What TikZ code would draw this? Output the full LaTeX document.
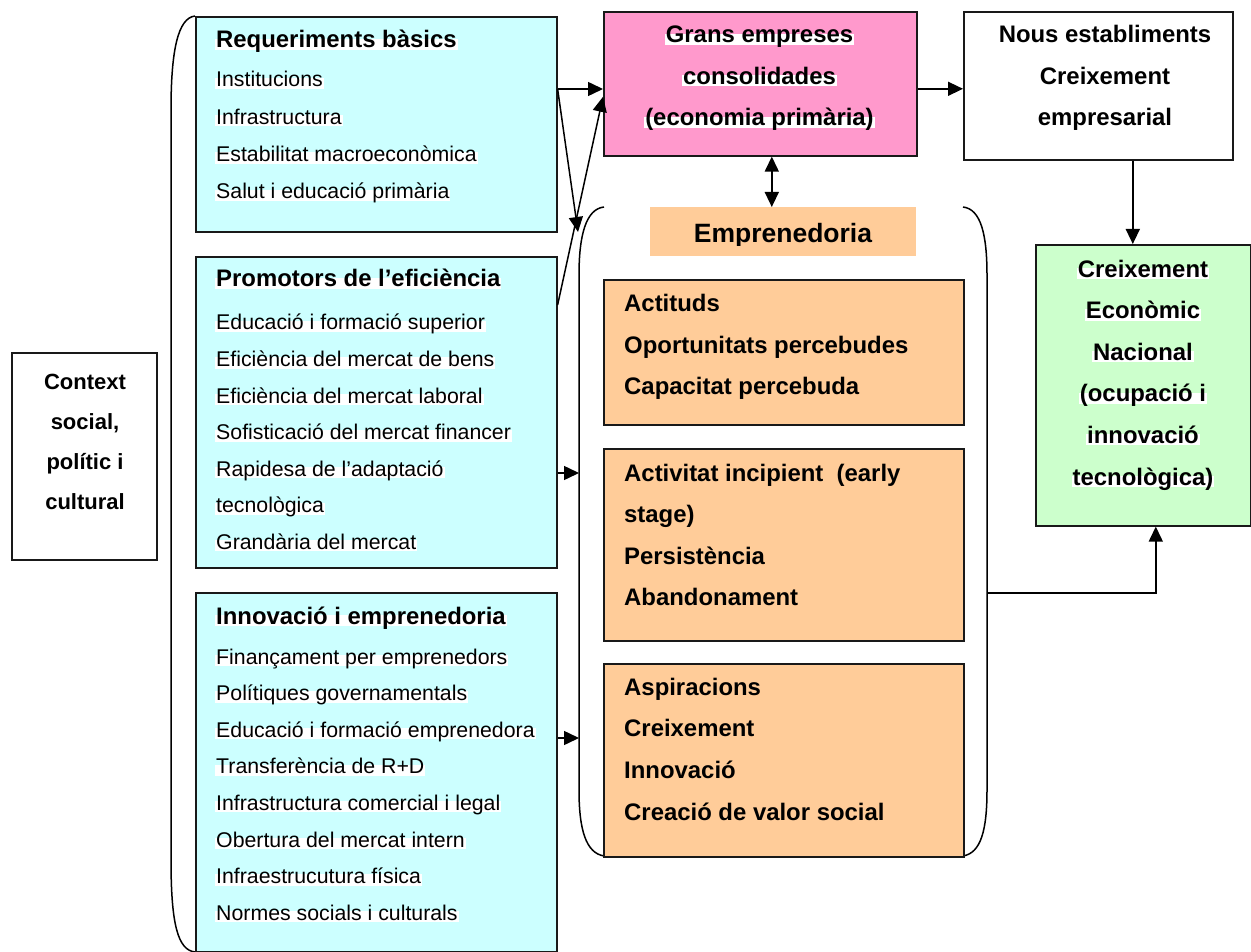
\documentclass[tikz,border=0pt]{standalone}
\usepackage{fontspec}
\setmainfont{Liberation Sans}
\usetikzlibrary{arrows.meta,calc}
\definecolor{cyanF}{HTML}{CCFFFF}
\definecolor{pinkF}{HTML}{FF99CC}
\definecolor{orF}{HTML}{FFCC99}
\definecolor{grF}{HTML}{CCFFCC}
\begin{document}
\begin{tikzpicture}[x=1pt,y=-1pt,
  box/.style={draw=black!90, line width=1.6pt, inner sep=0pt, anchor=north west},
  hl/.style={fill=white, inner xsep=1pt, inner ysep=0pt, text height=0.93em, text depth=0.2em, anchor=base west},
  itm/.style={hl, font=\fontsize{21.3}{25}\selectfont},
  ttl/.style={hl, font=\fontsize{23.9}{28}\selectfont\bfseries},
  ctr/.style={hl, anchor=base, font=\fontsize{23.9}{28}\selectfont\bfseries},
  otx/.style={inner sep=0pt, anchor=base west, font=\fontsize{23.9}{28}\selectfont\bfseries},
  ln/.style={line width=1.5pt},
  arr/.style={line width=1.5pt, -{Triangle[length=15pt,width=14pt]}},
  arrb/.style={line width=1.5pt, {Triangle[length=15pt,width=14pt]}-{Triangle[length=15pt,width=14pt]}},
]
\useasboundingbox (0,0) rectangle (1251,952);
\fill[white] (0,0) rectangle (1251,952);

% brackets
\draw[ln] (195,16) .. controls (178,18) and (171,50) .. (171,110) -- (171,860) .. controls (171,925) and (178,950) .. (195,952);
\draw[ln] (604,207) .. controls (586,209) and (579,235) .. (579,275) -- (579,790) .. controls (579,830) and (586,853) .. (604,856);
\draw[ln] (963,207) .. controls (981,209) and (987,235) .. (987,275) -- (987,790) .. controls (987,830) and (981,853) .. (963,856);

% boxes
\node[box, fill=cyanF, minimum width=361pt, minimum height=215pt] (req) at (195,16) {};
\node[box, fill=cyanF, minimum width=361pt, minimum height=311pt] (prom) at (195,256) {};
\node[box, fill=cyanF, minimum width=361pt, minimum height=359pt] (inno) at (195,592) {};
\node[box, fill=white, minimum width=145pt, minimum height=207pt] (ctx) at (11,352) {};
\node[box, fill=pinkF, minimum width=313pt, minimum height=144pt] (pink) at (603,11) {};
\node[box, fill=white, minimum width=269pt, minimum height=148pt] (nous) at (963,11) {};
\node[box, fill=grF, minimum width=215pt, minimum height=281pt] (green) at (1035,244) {};
\node[box, fill=orF, minimum width=360pt, minimum height=145pt] (oA) at (603,279) {};
\node[box, fill=orF, minimum width=360pt, minimum height=192pt] (oB) at (603,448) {};
\node[box, fill=orF, minimum width=360pt, minimum height=193pt] (oC) at (603,663) {};
\node[fill=orF, inner sep=0pt, minimum width=266pt, minimum height=49pt, anchor=north west] (empL) at (650,207) {};
\begin{scope}
\clip (650,207) rectangle (916,245.5);
\node[inner sep=0pt, anchor=base, font=\fontsize{26.5}{30}\selectfont\bfseries] (empT) at (783,243) {Emprenedoria};
\end{scope}

% cyan box texts
\node[ttl] (reqT) at (215,48) {Requeriments bàsics};
\foreach \t [count=\i] in {{Institucions},{Infrastructura},{Estabilitat macroeconòmica},{Salut i educació primària}}
  \node[itm] (reqI\i) at (215,{87+(\i-1)*37.3}) {\t};

\node[ttl] (promT) at (215,287) {Promotors de l’eficiència};
\foreach \t [count=\i] in {{Educació i formació superior},{Eficiència del mercat de bens},{Eficiència del mercat laboral},{Sofisticació del mercat financer},{Rapidesa de l’adaptació},{tecnològica},{Grandària del mercat}}
  \node[itm] (promI\i) at (215,{330+(\i-1)*36.5}) {\t};

\node[ttl] (innoT) at (215,624) {Innovació i emprenedoria};
\foreach \t [count=\i] in {{Finançament per emprenedors},{Polítiques governamentals},{Educació i formació emprenedora},{Transferència de R+D},{Infrastructura comercial i legal},{Obertura del mercat intern},{Infraestrucutura física},{Normes socials i culturals}}
  \node[itm] (innoI\i) at (215,{664+(\i-1)*36.6}) {\t};

% context
\foreach \t/\yy [count=\i] in {{Context}/389,{social,}/429,{polític i}/469.5,{cultural}/509.5}
  \node[ctr, font=\fontsize{22}{26}\selectfont\bfseries] (ctxT\i) at (85,\yy) {\t};

% pink
\foreach \t/\yy [count=\i] in {{Grans empreses}/43,{consolidades}/84.5,{(economia primària)}/126}
  \node[ctr] (pinkT\i) at (759.5,\yy) {\t};
% nous
\foreach \t/\yy [count=\i] in {{Nous establiments}/43,{Creixement}/84.5,{empresarial}/126}
  \node[ctr] (nousT\i) at (1105,\yy) {\t};
% green
\foreach \t [count=\i] in {{Creixement},{Econòmic},{Nacional},{(ocupació i},{innovació},{tecnològica)}}
  \node[ctr] (greenT\i) at (1143,{277+(\i-1)*41.6}) {\t};

% orange texts
\foreach \t [count=\i] in {{Actituds},{Oportunitats percebudes},{Capacitat percebuda}}
  \node[otx] (oAT\i) at (624,{312+(\i-1)*41.3}) {\t};
\foreach \t [count=\i] in {{Activitat incipient \ (early},{stage)},{Persistència},{Abandonament}}
  \node[otx] (oBT\i) at (624,{481.5+(\i-1)*41.3}) {\t};
\foreach \t [count=\i] in {{Aspiracions},{Creixement},{Innovació},{Creació de valor social}}
  \node[otx] (oCT\i) at (624,{695+(\i-1)*41.7}) {\t};

% connectors
\coordinate (p1) at ($(req.north east)+(0,73)$);
\coordinate (bl) at (578,232);
\coordinate (bx) at (579,0);
\coordinate (br) at (987,593);
\coordinate (gx) at ([xshift=12.5pt]green.south);
\draw[arr] (p1) -- (p1 -| pink.west);
\draw[arr] (p1) -- (bl);
\draw[arr] ($(prom.north east)+(0,49)$) -- ($(pink.west)+(0,13)$);
\draw[arr] ($(prom.north east)+(0,217)$) coordinate (p4) -- (p4 -| bx);
\draw[arr] ($(inno.north east)+(0,146)$) coordinate (p5) -- (p5 -| bx);
\draw[arrb] ([xshift=11.5pt]pink.south) -- ([xshift=11.5pt]pink.south |- empL.north);
\draw[arr] ($(pink.east)+(0,5)$) coordinate (p6) -- (p6 -| nous.west);
\draw[arr] ([xshift=-10.5pt]green.north |- nous.south) -- ([xshift=-10.5pt]green.north);
\draw[arr] (br) -- (br -| gx) -- (gx);
\end{tikzpicture}
\end{document}
